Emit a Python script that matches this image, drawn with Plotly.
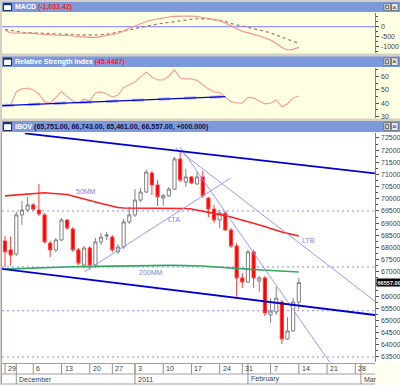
import plotly.graph_objects as go

W, H = 400, 385

# ---------------- data ----------------
dates = ["2010-11-29", "2010-11-30", "2010-12-01", "2010-12-02", "2010-12-03",
         "2010-12-06", "2010-12-07", "2010-12-08", "2010-12-09", "2010-12-10",
         "2010-12-13", "2010-12-14", "2010-12-15", "2010-12-16", "2010-12-17",
         "2010-12-20", "2010-12-21", "2010-12-22", "2010-12-23",
         "2010-12-27", "2010-12-28", "2010-12-29", "2010-12-30",
         "2011-01-03", "2011-01-04", "2011-01-05", "2011-01-06", "2011-01-07",
         "2011-01-10", "2011-01-11", "2011-01-12", "2011-01-13", "2011-01-14",
         "2011-01-17", "2011-01-18", "2011-01-19", "2011-01-20", "2011-01-21",
         "2011-01-24", "2011-01-26", "2011-01-27", "2011-01-28",
         "2011-01-31", "2011-02-01", "2011-02-02", "2011-02-03", "2011-02-04",
         "2011-02-07", "2011-02-08", "2011-02-09", "2011-02-10", "2011-02-11",
         "2011-02-14"]

opens = [68270, 67900, 67730, 69340, 69540, 69750, 69540, 69340, 68180, 67900,
         68310, 69130, 68760, 67900, 67280, 67980, 67280, 68230, 68470, 68430,
         67820, 68020, 69050, 69340, 69950, 70280, 71060, 70570, 70030, 70120,
         70400, 71640, 70690, 70900, 70610, 70900, 70030, 69580, 69130, 69420,
         68720, 68060, 66750, 66580, 67820, 66620, 66750, 65230, 65350, 65760,
         64240, 64570, 65751]
highs = [68470, 68450, 69460, 69910, 70080, 69830, 70610, 69420, 68270, 68390,
         69210, 69170, 68840, 67980, 68060, 68060, 68390, 68600, 68640, 68510,
         68140, 69170, 69660, 70400, 70450, 71190, 71150, 70770, 70200, 70490,
         71720, 71970, 71230, 70940, 71100, 71140, 70080, 69750, 69540, 69500,
         68800, 68180, 66950, 67900, 67900, 66830, 66830, 65920, 66380, 65840,
         65140, 65920, 66743]
lows = [67200, 67250, 67650, 68930, 69460, 69500, 69290, 68180, 67610, 67820,
        68270, 68720, 67820, 67280, 67160, 67080, 67160, 68100, 68310, 67820,
        67730, 67940, 68970, 69250, 69870, 70240, 70160, 69710, 69710, 70080,
        70360, 70690, 70490, 70610, 70570, 70030, 69250, 69010, 68800, 68680,
        67980, 65970, 66340, 66540, 66340, 66170, 65180, 64900, 65230, 64030,
        64200, 64540, 65461]
closes = [67820, 67690, 69340, 69540, 69750, 69580, 69380, 68230, 67900, 68310,
          69130, 68800, 67900, 67360, 67980, 67280, 68230, 68430, 68510, 67900,
          68020, 69050, 69340, 69950, 70280, 71100, 70570, 70080, 70130, 70400,
          71640, 70770, 70900, 70650, 70900, 70120, 69580, 69130, 69420, 68720,
          68060, 66750, 66580, 67820, 66750, 66750, 65310, 65390, 65920, 64240,
          64570, 65760, 66557]

ma50 = [70120, 70140, 70160, 70180, 70200, 70240, 70260, 70250, 70230, 70210,
        70200, 70180, 70120, 70050, 69990, 69930, 69870, 69810, 69750, 69680,
        69640, 69620, 69620, 69620, 69620, 69625, 69625, 69630, 69630, 69625,
        69620, 69620, 69600, 69580, 69540, 69500, 69460, 69420, 69380, 69310,
        69250, 69190, 69130, 69070, 69010, 68940, 68860, 68780, 68700, 68640,
        68580, 68510, 68470]
ma200 = [67110, 67120, 67130, 67150, 67160, 67170, 67180, 67190, 67195, 67200,
         67200, 67205, 67210, 67215, 67220, 67220, 67225, 67225, 67230, 67230,
         67235, 67235, 67240, 67240, 67245, 67250, 67255, 67260, 67260, 67265,
         67265, 67265, 67265, 67260, 67255, 67240, 67220, 67200, 67180, 67160,
         67150, 67140, 67125, 67110, 67095, 67080, 67060, 67045, 67030, 67020,
         67010, 67000, 66990]

macd = [-165, -315, -315, -315, -330, -330, -365, -390, -415, -430,
        -440, -440, -465, -500, -515, -530, -530, -490, -440, -415,
        -340, -215, -65, 35, 160, 260, 335, 395, 435, 485,
        520, 535, 545, 535, 510, 460, 385, 335, 300, 185,
        35, -115, -240, -300, -365, -465, -565, -665, -840, -1040,
        -1165, -1130, -1033]
signal = [-140, -190, -240, -280, -300, -315, -325, -330, -340, -350,
          -365, -375, -390, -400, -415, -415, -415, -400, -375, -330,
          -280, -215, -155, -90, -30, 35, 85, 135, 175, 220,
          260, 300, 335, 370, 400, 410, 395, 360, 320, 260,
          160, 95, 35, -15, -65, -140, -230, -315, -415, -540,
          -640, -740, -830]

rsi = [39.5, 38.7, 48.7, 50.8, 51.3, 50.0, 47.0, 41.2, 40.0, 44.7,
       48.7, 45.0, 41.7, 40.2, 43.2, 41.7, 47.7, 48.5, 47.0, 44.7,
       46.2, 51.9, 53.8, 56.0, 59.8, 63.5, 59.8, 57.5, 57.5, 60.5,
       65.0, 59.0, 58.3, 58.3, 57.1, 53.8, 50.8, 48.5, 48.1, 44.7,
       41.2, 40.2, 40.0, 44.4, 44.0, 41.7, 39.5, 40.0, 42.5, 37.4,
       39.5, 44.0, 45.45]

week_tick_idx = [0, 5, 10, 15, 19, 23, 28, 33, 38, 42, 47, 52, 57, 62]
week_tick_text = ["29", "6", "13", "20", "27", "3", "10", "17", "24", "31", "7", "14", "21", "28"]
month_idx = [2, 23, 43, 63]
month_text = ["December", "2011", "February", "Mar"]

price_ticks = [63500, 64000, 64500, 65000, 65500, 66000, 66500, 67000, 67500,
               68000, 68500, 69000, 69500, 70000, 70500, 71000, 71500, 72000, 72500]
# 66500 sits under the last-price box in the original, so it shows no label
price_labels = [63500, 64000, 64500, 65000, 65500, 66000, 67000, 67500,
                68000, 68500, 69000, 69500, 70000, 70500, 71000, 71500, 72000, 72500]
macd_ticks = [0, -500, -1000]
rsi_ticks = [60, 50, 40, 30]

support_levels = [69500, 67200, 65400, 63500]

top_channel_x = [3.5, 65.5]
top_channel_y = [72690, 71045]
bottom_channel_x = [-0.55, 65.5]
bottom_channel_y = [67125, 65225]
lta_x = [14.0, 40.0]
lta_y = [66990, 70860]
ltb1_x = [30.2, 65.5]
ltb1_y = [72090, 65790]
ltb2_x = [31.0, 57.5]
ltb2_y = [72130, 63270]
rsi_trend_x = [-0.5, 39.0]
rsi_trend_y = [38.2, 45.0]

macd_label = "(-1,033.42)"
rsi_label = "(45.4487)"
main_label = "({:,.2f}, {:,.2f}, {:,.2f}, {:,.2f}, +000.000)".format(
    opens[-1], highs[-1], lows[-1], closes[-1])

# ---------------- geometry helpers ----------------
def fx(p):
    return p / W


def fy(p):
    return 1 - p / H


X0, X1 = 2, 375
XR = [(X0 - 5) / 5.65, (X1 - 5) / 5.65]
BEIGE = "#ffffe1"
BAR = "#7d99dc"
FONT = "Liberation Sans"
AXC = "#404040"

xi = list(range(len(dates)))

fig = go.Figure()

# ---- MACD panel ----
fig.add_trace(go.Scatter(x=xi, y=signal, xaxis="x", yaxis="y", mode="lines",
                         line=dict(color="#b07878", width=1.3, dash="dot"),
                         hoverinfo="skip", showlegend=False))
fig.add_trace(go.Scatter(x=xi, y=macd, xaxis="x", yaxis="y", mode="lines",
                         line=dict(color="#f29090", width=1.2),
                         hoverinfo="skip", showlegend=False))

# ---- RSI panel ----
fig.add_trace(go.Scatter(x=xi, y=rsi, xaxis="x2", yaxis="y2", mode="lines",
                         line=dict(color="#f4a0a0", width=1.2),
                         hoverinfo="skip", showlegend=False))
fig.add_trace(go.Scatter(x=rsi_trend_x, y=rsi_trend_y, xaxis="x2", yaxis="y2", mode="lines",
                         line=dict(color="#b4b4f4", width=3, dash="12px,14px"),
                         hoverinfo="skip", showlegend=False))
fig.add_trace(go.Scatter(x=rsi_trend_x, y=rsi_trend_y, xaxis="x2", yaxis="y2", mode="lines",
                         line=dict(color="#0000dd", width=1.4),
                         hoverinfo="skip", showlegend=False))

# ---- main panel ----
fig.add_trace(go.Scatter(x=xi, y=ma200, xaxis="x3", yaxis="y3", mode="lines",
                         line=dict(color="#30a860", width=1.6),
                         hoverinfo="skip", showlegend=False))
fig.add_trace(go.Scatter(x=xi, y=ma50, xaxis="x3", yaxis="y3", mode="lines",
                         line=dict(color="#ff2020", width=1.6),
                         hoverinfo="skip", showlegend=False))
fig.add_trace(go.Candlestick(x=xi, open=opens, high=highs, low=lows, close=closes,
                             xaxis="x3", yaxis="y3",
                             increasing=dict(line=dict(color="#808080", width=1), fillcolor="#ffffff"),
                             decreasing=dict(line=dict(color="#ff3a3a", width=1), fillcolor="#ff0000"),
                             whiskerwidth=0, hoverinfo="skip", showlegend=False))
for lx, ly in [(lta_x, lta_y), (ltb1_x, ltb1_y), (ltb2_x, ltb2_y)]:
    fig.add_trace(go.Scatter(x=lx, y=ly, xaxis="x3", yaxis="y3", mode="lines",
                             line=dict(color="#9a9af5", width=1),
                             hoverinfo="skip", showlegend=False))
for lx, ly in [(top_channel_x, top_channel_y), (bottom_channel_x, bottom_channel_y)]:
    fig.add_trace(go.Scatter(x=lx, y=ly, xaxis="x3", yaxis="y3", mode="lines",
                             line=dict(color="#0000d0", width=1.8),
                             hoverinfo="skip", showlegend=False))

shapes = []
annotations = []


def rect(x0, y0, x1, y1, fill, line=None, lw=0, layer="below"):
    shapes.append(dict(type="rect", xref="paper", yref="paper",
                       x0=fx(x0), x1=fx(x1), y0=fy(y1), y1=fy(y0),
                       fillcolor=fill, line=dict(color=line or fill, width=lw), layer=layer))


# panel backgrounds
rect(2, 12, 400, 53.5, BEIGE)
rect(2, 67, 400, 118.5, BEIGE)
rect(2, 132, 400, 363, "#ffffff")
rect(2, 363, 375, 385, "#ffffff")
rect(375, 363, 400, 385, "#fffff0")


def title_bar(y0, y1, parts):
    rect(2, y0, 400, y1, BAR)
    rect(3.5, y0 + 1.5, 11.5, y1 - 1.5, "#ffffff", "#203060", 1)
    rect(3.5, y0 + 1.5, 11.5, y0 + 3.2, "#203060", "#203060", 0)
    for bx in (384, 391.5):
        rect(bx, y0 + 1.5, bx + 6.5, y1 - 1.5, "#e8e8e8", "#505050", 0.6)
    rect(385.7, y0 + 3.2, 388.7, y1 - 3.2, "#e8e8e8", "#303030", 0.8)
    annotations.append(dict(xref="paper", yref="paper", x=fx(394.75), y=fy((y0 + y1) / 2),
                            text="×", showarrow=False, xanchor="center", yanchor="middle",
                            font=dict(family=FONT, size=8, color="#202020")))
    annotations.append(dict(xref="paper", yref="paper", x=fx(12.5), y=fy((y0 + y1) / 2 + 0.3),
                            text=parts, showarrow=False, xanchor="left", yanchor="middle",
                            font=dict(family=FONT, size=7, color="#ffffff")))


title_bar(2, 12, "<b>MACD</b> <b><span style='color:#ff1a1a'>" + macd_label + "</span></b>")
title_bar(56.5, 67, "<b>Relative Strength Index</b> <b><span style='color:#ff1a1a'>" + rsi_label + "</span></b>")
title_bar(121, 132, "<b>IBOV</b> <b><span style='color:#10104a'>" + main_label + "</span></b>")

# zero line MACD
shapes.append(dict(type="line", xref="x domain", yref="y", x0=0, x1=1, y0=0, y1=0,
                   line=dict(color="#9696ff", width=1.3), layer="below"))

# dotted support lines
for lv in support_levels:
    shapes.append(dict(type="line", xref="x3 domain", yref="y3", x0=0, x1=1, y0=lv, y1=lv,
                       line=dict(color="#8c8cf0", width=1, dash="2px,3px"), layer="below"))

# bottom date axis
for yy in (363.5, 374, 384):
    shapes.append(dict(type="line", xref="paper", yref="paper", x0=fx(2), x1=fx(375),
                       y0=fy(yy), y1=fy(yy), line=dict(color="#a0a0a0", width=1)))
shapes.append(dict(type="line", xref="paper", yref="paper", x0=fx(1.5), x1=fx(1.5),
                   y0=fy(363.5), y1=fy(384), line=dict(color="#a0a0a0", width=1)))
for i, t in zip(week_tick_idx, week_tick_text):
    shapes.append(dict(type="line", xref="x3", yref="paper", x0=i, x1=i,
                       y0=fy(363.5), y1=fy(374), line=dict(color="#909090", width=1)))
    annotations.append(dict(xref="x3", yref="paper", x=i, y=fy(368.8), text=t, showarrow=False,
                            xanchor="left", yanchor="middle", xshift=1,
                            font=dict(family=FONT, size=7, color=AXC)))
for i, t in zip(month_idx, month_text):
    shapes.append(dict(type="line", xref="x3", yref="paper", x0=i, x1=i,
                       y0=fy(363.5), y1=fy(384), line=dict(color="#909090", width=1)))
    annotations.append(dict(xref="x3", yref="paper", x=i, y=fy(379.2), text=t, showarrow=False,
                            xanchor="left", yanchor="middle", xshift=1,
                            font=dict(family=FONT, size=7, color=AXC)))

# left frame line
shapes.append(dict(type="line", xref="paper", yref="paper", x0=fx(1.5), x1=fx(1.5),
                   y0=fy(362.5), y1=fy(132), line=dict(color="#a0a0a0", width=1)))

# chart labels
lbl = dict(showarrow=False, xref="x3", yref="y3", xanchor="center", yanchor="middle",
           font=dict(family=FONT, size=7, color="#8080f0"))
annotations.append(dict(lbl, x=14.3, y=70290, text="50MM"))
annotations.append(dict(lbl, x=29.9, y=69130, text="LTA"))
annotations.append(dict(lbl, x=25.9, y=66980, text="200MM"))
annotations.append(dict(lbl, x=53.8, y=68267, text="LTB"))


# right-hand axis labels drawn as text next to the axis
def axis_labels(vals, yref):
    for v in vals:
        annotations.append(dict(xref="paper", yref=yref, x=fx(378.5), y=v, text=str(v),
                                showarrow=False, xanchor="left", yanchor="middle",
                                font=dict(family=FONT, size=7, color=AXC)))


axis_labels(macd_ticks, "y")
axis_labels(rsi_ticks, "y2")
axis_labels(price_labels, "y3")

# last price box
annotations.append(dict(xref="paper", yref="y3", x=fx(375.5), y=closes[-1], text="<b>%.2f</b>" % closes[-1],
                        showarrow=False, xanchor="left", yanchor="middle", bgcolor="#000000",
                        borderpad=0.5, font=dict(family=FONT, size=5.6, color="#ffffff")))

xcommon = dict(range=XR, showgrid=False, zeroline=False, showticklabels=False,
               ticks="", showline=False, fixedrange=True)
ycommon = dict(side="right", showgrid=False, zeroline=False, ticks="outside", ticklen=3,
               tickcolor="#505050", showline=True, linecolor="#808080", linewidth=1,
               showticklabels=False, fixedrange=True)

fig.update_layout(
    width=W, height=H,
    margin=dict(l=0, r=0, t=0, b=0),
    paper_bgcolor="#d4d0c8",
    plot_bgcolor="rgba(0,0,0,0)",
    showlegend=False,
    boxgap=0.2,
    xaxis=dict(domain=[fx(X0), fx(X1)], anchor="y", **xcommon),
    xaxis2=dict(domain=[fx(X0), fx(X1)], anchor="y2", **xcommon),
    xaxis3=dict(domain=[fx(X0), fx(X1)], anchor="y3", rangeslider=dict(visible=False), **xcommon),
    yaxis=dict(domain=[fy(53), fy(13)], anchor="x", range=[-1315, 685], tickvals=macd_ticks,
               minor=dict(ticks="outside", ticklen=2, dtick=250, tickcolor="#505050"), **ycommon),
    yaxis2=dict(domain=[fy(118), fy(68)], anchor="x2", range=[28.9, 66.5], tickvals=rsi_ticks,
                minor=dict(ticks="outside", ticklen=2, dtick=5, tickcolor="#505050"), **ycommon),
    yaxis3=dict(domain=[fy(362), fy(133)], anchor="x3", range=[63294, 72705], tickvals=price_ticks,
                minor=dict(ticks="outside", ticklen=2, dtick=250, tickcolor="#505050"), **ycommon),
    shapes=shapes,
    annotations=annotations,
)

fig.write_html("out.html", config={"displayModeBar": False},
               post_script="document.body.style.margin='0';document.body.style.overflow='hidden';")
